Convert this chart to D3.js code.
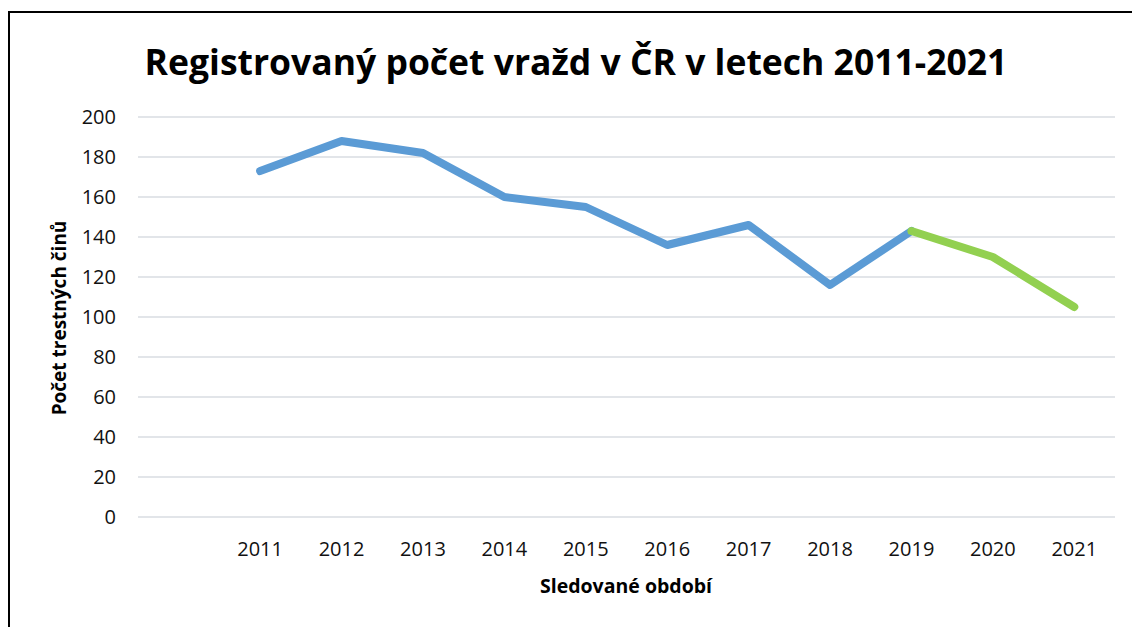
<!DOCTYPE html>
<head>
<style>
    body { margin: 0; background: white; }
    text { font-family: "Open Sans", "Noto Sans", sans-serif; }
</style>
</head>

<body>
    <svg id="container" height="627" width="1132"></svg>
</body>

<script src="https://d3js.org/d3.v7.min.js"></script>
<script>

    // one empty slot before 2011, like the original sheet
    let years = ["", "2011", "2012", "2013", "2014", "2015", "2016", "2017", "2018", "2019", "2020", "2021"]
    let murders = [null, 173, 188, 182, 160, 155, 136, 146, 116, 143, 130, 105]
    let yTicks = [0, 20, 40, 60, 80, 100, 120, 140, 160, 180, 200]
    let blueYears = ["2011", "2012", "2013", "2014", "2015", "2016", "2017", "2018", "2019"]
    let greenYears = ["2019", "2020", "2021"]

    let svg = d3.select("#container")

    // frame
    svg.append("rect")
        .attr("x", 9).attr("y", 12)
        .attr("width", 1140).attr("height", 640)
        .attr("fill", "none")
        .attr("stroke", "black")
        .attr("stroke-width", 2)

    let plotLeft = 138, plotRight = 1115, plotTop = 117, plotBottom = 517

    let x = d3.scaleBand()
        .domain(years)
        .range([plotLeft, plotRight])

    let y = d3.scaleLinear()
        .domain([0, 200])
        .range([plotBottom, plotTop])

    // gridlines
    svg.append("g")
        .selectAll("line")
        .data(yTicks)
        .enter()
        .append("line")
        .attr("x1", plotLeft).attr("x2", plotRight)
        .attr("y1", d => y(d)).attr("y2", d => y(d))
        .attr("stroke", "#d9dde2")
        .attr("stroke-width", 1.5)

    // y axis labels
    svg.append("g")
        .selectAll("text")
        .data(yTicks)
        .enter()
        .append("text")
        .attr("x", 116)
        .attr("y", d => y(d) + 7)
        .attr("text-anchor", "end")
        .attr("font-size", 20)
        .attr("fill", "#111")
        .text(d => d)

    // x axis labels
    svg.append("g")
        .selectAll("text")
        .data(years.filter(d => d != ""))
        .enter()
        .append("text")
        .attr("x", d => x(d) + x.bandwidth() / 2)
        .attr("y", 556)
        .attr("text-anchor", "middle")
        .attr("font-size", 20)
        .attr("fill", "#111")
        .text(d => d)

    let value = d => murders[years.indexOf(d)]
    let line = d3.line()
        .x(d => x(d) + x.bandwidth() / 2)
        .y(d => y(value(d)))

    svg.append("path")
        .attr("d", line(blueYears))
        .attr("fill", "none")
        .attr("stroke", "#5b9bd5")
        .attr("stroke-width", 8)
        .attr("stroke-linecap", "round")
        .attr("stroke-linejoin", "round")

    svg.append("path")
        .attr("d", line(greenYears))
        .attr("fill", "none")
        .attr("stroke", "#92d050")
        .attr("stroke-width", 8)
        .attr("stroke-linecap", "round")
        .attr("stroke-linejoin", "round")

    // titles
    svg.append("text")
        .attr("x", 576).attr("y", 75)
        .attr("text-anchor", "middle")
        .attr("font-size", 35.5)
        .attr("font-weight", "bold")
        .text("Registrovaný počet vražd v ČR v letech 2011-2021")

    svg.append("text")
        .attr("x", 626).attr("y", 593)
        .attr("text-anchor", "middle")
        .attr("font-size", 19.5)
        .attr("font-weight", "bold")
        .text("Sledované období")

    svg.append("text")
        .attr("transform", "translate(66,318) rotate(-90)")
        .attr("text-anchor", "middle")
        .attr("font-size", 19)
        .attr("font-weight", "bold")
        .text("Počet trestných činů")

</script>
